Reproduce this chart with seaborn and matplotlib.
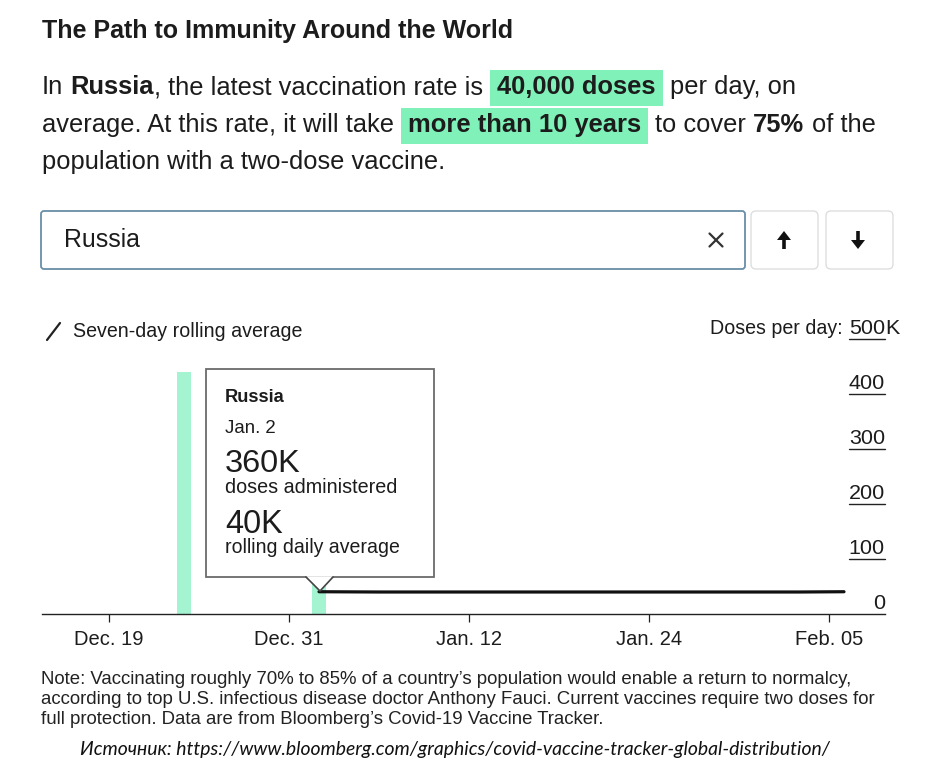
import matplotlib
matplotlib.use("Agg")
import matplotlib.pyplot as plt
import matplotlib.transforms as mtransforms
from matplotlib.patches import Rectangle, Polygon, FancyBboxPatch
from matplotlib.lines import Line2D
import seaborn as sns
import pandas as pd
import numpy as np

# ---------------- data ----------------
start_date = "2020-12-19"
bar_dates = ["2020-12-24", "2021-01-02"]
bar_doses = [440000, 360000]
avg_dates = ["2021-01-02", "2021-01-06", "2021-01-20", "2021-02-03", "2021-02-06"]
avg_doses = [40500, 40000, 40000, 40000, 40500]
xtick_dates = ["2020-12-19", "2020-12-31", "2021-01-12", "2021-01-24", "2021-02-05"]
xtick_labels = ["Dec. 19", "Dec. 31", "Jan. 12", "Jan. 24", "Feb. 05"]
ytick_values = [0, 100000, 200000, 300000, 400000, 500000]
ytick_labels = ["0", "100", "200", "300", "400", "500"]

title = "The Path to Immunity Around the World"
body_lines = [
    [("In ", False, False), ("Russia", True, False), (", the latest vaccination rate is ", False, False),
     ("40,000 doses", True, True), (" per day, on", False, False)],
    [("average. At this rate, it will take ", False, False), ("more than 10 years", True, True),
     (" to cover ", False, False), ("75%", True, False), (" of the", False, False)],
    [("population with a two-dose vaccine.", False, False)],
]
note_lines = [
    "Note: Vaccinating roughly 70% to 85% of a country\u2019s population would enable a return to normalcy,",
    "according to top U.S. infectious disease doctor Anthony Fauci. Current vaccines require two doses for",
    "full protection. Data are from Bloomberg\u2019s Covid-19 Vaccine Tracker.",
]
source = "\u0418\u0441\u0442\u043e\u0447\u043d\u0438\u043a: https://www.bloomberg.com/graphics/covid-vaccine-tracker-global-distribution/"
tooltip_lines = ["Russia", "Jan. 2", "360K", "doses administered", "40K", "rolling daily average"]

# ---------------- style ----------------
sns.set_theme(style="white")
plt.rcParams['font.family'] = ['Liberation Sans', 'DejaVu Sans']

W, H, DPI = 935, 774, 100
INK = "#1c1c1c"
BAR_COLOR = "#a4f3d1"
HL_COLOR = "#80f2b9"

fig = plt.figure(figsize=(W / DPI, H / DPI), dpi=DPI)
fig.patch.set_facecolor("white")
T = mtransforms.Affine2D().scale(1 / W, -1 / H).translate(0, 1) + fig.transFigure
renderer = fig.canvas.get_renderer()


def text_width(s, **kw):
    t = fig.text(0, 0, "|" + s + "|", **kw)
    w1 = t.get_window_extent(renderer).width
    t.set_text("||")
    w2 = t.get_window_extent(renderer).width
    t.remove()
    return w1 - w2


def fit_size(s, target, **kw):
    return 10 * target / text_width(s, fontsize=10, **kw)


def ptext(x, y, s, **kw):
    kw.setdefault("color", INK)
    kw.setdefault("va", "baseline")
    return fig.text(x, y, s, transform=T, **kw)


def add_patch(p):
    fig.add_artist(p)
    return p


# ---------------- header ----------------
fs_title = fit_size(title, 472, fontweight="bold")
ptext(42, 38, title, fontsize=fs_title, fontweight="bold")

PAD = 7
w10 = sum(text_width(s, fontsize=10, fontweight="bold" if b else "normal") for s, b, h in body_lines[0])
n_hl = sum(1 for s, b, h in body_lines[0] if h)
fs_body = 10 * (756 - 2 * PAD * n_hl) / w10
baselines = [94, 132, 169]
for segs, yb in zip(body_lines, baselines):
    x = 42
    for s, bold, hl in segs:
        fw = "bold" if bold else "normal"
        w = text_width(s, fontsize=fs_body, fontweight=fw)
        if hl:
            add_patch(Rectangle((x, yb - 24.5), w + 2 * PAD, 36, transform=T,
                                facecolor=HL_COLOR, edgecolor="none", zorder=1))
            x += PAD
        lead = len(s) - len(s.lstrip(" "))
        xd = x + (text_width(" " * lead, fontsize=fs_body, fontweight=fw) if lead else 0)
        ptext(xd, yb, s.strip(" "), fontsize=fs_body, fontweight=fw, zorder=3)
        x += w
        if hl:
            x += PAD

# ---------------- search box & buttons ----------------
add_patch(FancyBboxPatch((41, 211), 704, 58, boxstyle="round,pad=0,rounding_size=3", transform=T,
                         facecolor="white", edgecolor="#6a8ea8", linewidth=1.3))
fs_search = fit_size("Russia", 76)
ptext(64, 247, "Russia", fontsize=fs_search)
for dx, dy in [(-6.5, -6.5), (-6.5, 6.5)]:
    add_patch(Line2D([716 + dx, 716 - dx], [240 + dy, 240 - dy], transform=T, color="#333", lw=1.6))
for x0 in (751, 826):
    add_patch(FancyBboxPatch((x0, 211), 67, 58, boxstyle="round,pad=0,rounding_size=5", transform=T,
                             facecolor="white", edgecolor="#dedede", linewidth=1.0))
# up arrow
add_patch(Line2D([784, 784], [249, 237], transform=T, color="#111", lw=2.6, solid_capstyle="butt"))
add_patch(Polygon([(777, 240), (791, 240), (784, 231)], closed=True, transform=T, facecolor="#111", edgecolor="none"))
# down arrow
add_patch(Line2D([858, 858], [231, 243], transform=T, color="#111", lw=2.6, solid_capstyle="butt"))
add_patch(Polygon([(851, 240), (865, 240), (858, 249)], closed=True, transform=T, facecolor="#111", edgecolor="none"))

# ---------------- legend ----------------
add_patch(Line2D([47, 60], [340, 323], transform=T, color="#222", lw=1.6))
fs_leg = fit_size("Seven-day rolling average", 230)
ptext(73, 337, "Seven-day rolling average", fontsize=fs_leg)

# ---------------- chart ----------------
AX_L, AX_R, AX_B, AX_T = 42, 885, 614, 339
ax = fig.add_axes([AX_L / W, 1 - AX_B / H, (AX_R - AX_L) / W, (AX_B - AX_T) / H])
ax.set_facecolor("none")

t0 = pd.Timestamp(start_date)
bar_day = [(pd.Timestamp(d) - t0).days for d in bar_dates]
avg_day = [(pd.Timestamp(d) - t0).days for d in avg_dates]
tick_day = [(pd.Timestamp(d) - t0).days for d in xtick_dates]

df_bar = pd.DataFrame({"day": bar_day, "doses": bar_doses})
df_avg = pd.DataFrame({"day": avg_day, "doses": avg_doses})
spacing = float(np.min(np.diff(sorted(bar_day))))
sns.barplot(data=df_bar, x="day", y="doses", native_scale=True, width=0.93 / spacing,
            color=BAR_COLOR, saturation=1, errorbar=None, linewidth=0, ax=ax, zorder=1)
sns.lineplot(data=df_avg, x="day", y="doses", color="#111111", linewidth=2.3, ax=ax, zorder=3)

px_per_day = 15.0
ax.set_xlim(-(109 - AX_L) / px_per_day, (AX_R - 109) / px_per_day)
ax.set_ylim(0, 500000)
ax.set_xlabel("")
ax.set_ylabel("")
ax.set_yticks([])
sns.despine(ax=ax, left=True)
ax.spines["bottom"].set_color("#222")
ax.spines["bottom"].set_linewidth(1.0)
fs_x = fit_size("Dec. 19", 69)
ax.set_xticks(tick_day)
ax.set_xticklabels(xtick_labels)
ax.tick_params(axis="x", bottom=True, length=5.8, width=0.9, color="#222", labelsize=fs_x,
               labelcolor=INK, pad=6.0, direction="out")
ax.grid(False)

# y labels with underline stubs
fs_y = fit_size("400", 36)
ytrans = ax.get_yaxis_transform()
off = mtransforms.ScaledTranslation(0, 5 / DPI, fig.dpi_scale_trans)
ax_w = AX_R - AX_L
for v, lab in zip(ytick_values, ytick_labels):
    ax.text(1.0, v, lab, transform=ytrans + off, ha="right", va="baseline", fontsize=fs_y, color=INK)
    if v > 0:
        w = text_width(lab, fontsize=fs_y)
        ax.plot([1 - w / ax_w, 1.0], [v, v], transform=ytrans, color="#222", lw=1.0, clip_on=False)
    if v == ytick_values[-1]:
        ax.text(1.0, v, "K", transform=ytrans + off, ha="left", va="baseline", fontsize=fs_y, color=INK)
        wsp = text_width(lab + " ", fontsize=fs_y)
        ax.text(1 - wsp / ax_w, v, "Doses per day:", transform=ytrans + off, ha="right", va="baseline",
                fontsize=fit_size("Doses per day:", 132), color=INK)

# ---------------- tooltip ----------------
add_patch(Rectangle((206, 369), 228, 208, transform=T, facecolor="white", edgecolor="#6b6b6b",
                    linewidth=1.3, zorder=4))
add_patch(Polygon([(306, 576.2), (333, 576.2), (320, 591)], closed=True, transform=T,
                  facecolor="white", edgecolor="none", zorder=5))
add_patch(Line2D([306, 320, 333], [577, 591, 577], transform=T, color="#444", lw=1.2, zorder=6))
tt_specs = [  # (baseline, target width, weight)
    (402, 60, "bold"), (433, 51, "normal"), (472, 76, "normal"),
    (493, 172, "normal"), (533, 58, "normal"), (553, 175, "normal"),
]
for s, (yb, tw, fw) in zip(tooltip_lines, tt_specs):
    ptext(225, yb, s, fontsize=fit_size(s, tw, fontweight=fw), fontweight=fw, zorder=7)

# ---------------- note & source ----------------
fs_note = fit_size(note_lines[0], 814)
for s, yb in zip(note_lines, [684, 704, 724]):
    ptext(41, yb, s, fontsize=fs_note, color="#222")
src_kw = dict(family=["Lato", "DejaVu Sans"], style="italic")
ptext(80, 755, source, fontsize=fit_size(source, 752, **src_kw), color="#111", **src_kw)

fig.savefig("out.png", dpi=DPI, facecolor="white")
